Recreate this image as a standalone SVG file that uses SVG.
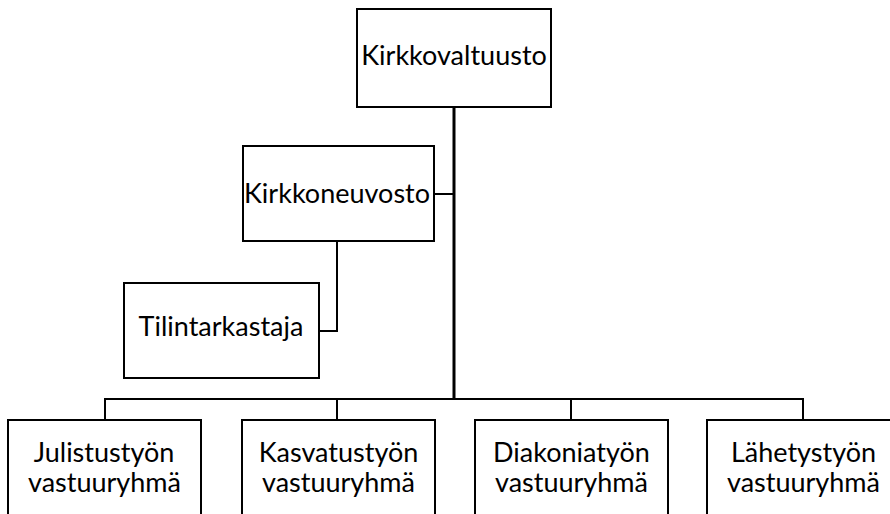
<svg xmlns="http://www.w3.org/2000/svg" width="890" height="514" viewBox="0 0 890 514">
<style>
.box{fill:#fff;stroke:#000;stroke-width:2}
.ln{fill:none;stroke:#000;stroke-width:2}
.trunk{fill:none;stroke:#000;stroke-width:3}
text{font-family:Lato,"Liberation Sans",sans-serif;font-size:27px;fill:#000;text-anchor:middle}
</style>
<rect width="890" height="514" fill="#fff"/>
<g id="connectors">
<line class="trunk" x1="454" y1="107" x2="454" y2="400"/>
<line class="ln" x1="434" y1="194" x2="454" y2="194"/>
<polyline class="ln" points="337,241 337,331 319,331"/>
<polyline class="ln" points="105,420 105,399 803,399 803,420"/>
<line class="ln" x1="337" y1="399" x2="337" y2="420"/>
<line class="ln" x1="571" y1="399" x2="571" y2="420"/>
</g>
<g id="kirkkovaltuusto">
<rect class="box" x="357" y="9" width="194" height="98"/>
<text x="454" y="65">Kirkkovaltuusto</text>
</g>
<g id="kirkkoneuvosto">
<rect class="box" x="243" y="146" width="191" height="95"/>
<text x="337" y="203">Kirkkoneuvosto</text>
</g>
<g id="tilintarkastaja">
<rect class="box" x="124" y="283" width="195" height="95"/>
<text x="221" y="336">Tilintarkastaja</text>
</g>
<g id="julistustyo">
<rect class="box" x="8" y="420" width="193" height="110"/>
<text x="104" y="462">Julistustyön</text>
<text x="104.5" y="492">vastuuryhmä</text>
</g>
<g id="kasvatustyo">
<rect class="box" x="242" y="420" width="193" height="110"/>
<text x="338.5" y="462">Kasvatustyön</text>
<text x="338.5" y="492">vastuuryhmä</text>
</g>
<g id="diakoniatyo">
<rect class="box" x="475" y="420" width="193" height="110"/>
<text x="571.5" y="462">Diakoniatyön</text>
<text x="571.5" y="492">vastuuryhmä</text>
</g>
<g id="lahetystyo">
<rect class="box" x="707" y="420" width="193" height="110"/>
<text x="803.5" y="462">Lähetystyön</text>
<text x="803.5" y="492">vastuuryhmä</text>
</g>
</svg>
